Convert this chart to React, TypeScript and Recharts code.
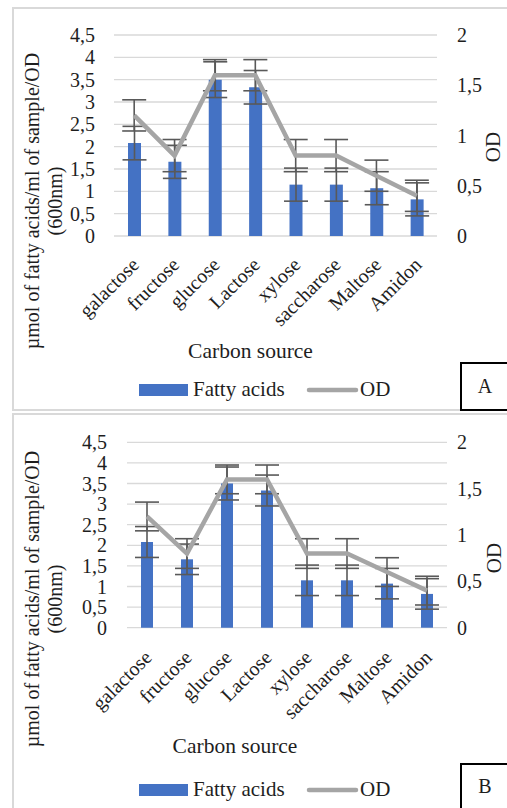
import React from "react";
import { ComposedChart, Bar, Line, XAxis, YAxis, CartesianGrid, ErrorBar, Legend } from "recharts";

// Carbon source screening: fatty acids (bars, left axis) + OD (line, right axis)
const categories = ["galactose", "fructose", "glucose", "Lactose", "xylose", "saccharose", "Maltose", "Amidon"];
const fattyAcids = [2.08, 1.66, 3.5, 3.33, 1.15, 1.15, 1.07, 0.82];
const fattyAcidsErr = [0.375, 0.37, 0.4, 0.375, 0.37, 0.37, 0.37, 0.37];
const odValues = [1.2, 0.8, 1.6, 1.6, 0.8, 0.8, 0.6, 0.4];
const odErr = [0.155, 0.16, 0.155, 0.155, 0.16, 0.16, 0.155, 0.155];
const leftTicks = [0, 0.5, 1, 1.5, 2, 2.5, 3, 3.5, 4, 4.5];
const rightTicks = [0, 0.5, 1, 1.5, 2];

const data = categories.map((source, i) => ({
  source,
  fa: fattyAcids[i],
  faErr: fattyAcidsErr[i],
  od: odValues[i],
  odErr: odErr[i],
}));

const FONT = '"Liberation Serif", "DejaVu Serif", serif';
const TEXT = "#1e1e1e";
const txt = { fontFamily: FONT };
const comma = (v: number) => String(v).replace(".", ",");

interface PanelLayout {
  top: number;
  height: number;
  marginTop: number;
  leftWidth: number;
  rightWidth: number;
  xHeight: number;
  leftTickMargin: number;
  rightTickMargin: number;
  barSize: number;
  tickDx: number;
  tickDy: number;
  yLabelCy: number;
  odLabel: [number, number];
  xLabel: [number, number];
  legendTop: number;
}

const panelA: PanelLayout = {
  top: 0,
  height: 411,
  marginTop: 35,
  leftWidth: 114,
  rightWidth: 70,
  xHeight: 175,
  leftTickMargin: 19,
  rightTickMargin: 20,
  barSize: 13,
  tickDx: 6,
  tickDy: 30,
  yLabelCy: 201,
  odLabel: [493, 147],
  xLabel: [250.5, 358],
  legendTop: 378,
};

const panelB: PanelLayout = {
  top: 411,
  height: 397,
  marginTop: 31.3,
  leftWidth: 127,
  rightWidth: 60,
  xHeight: 180.3,
  leftTickMargin: 20,
  rightTickMargin: 10,
  barSize: 12,
  tickDx: 6,
  tickDy: 31,
  yLabelCy: 188,
  odLabel: [494, 147],
  xLabel: [235, 342],
  legendTop: 367,
};

function CategoryTick({ x, y, payload, dx, dy }: any) {
  const tx = x + dx;
  const ty = y + dy;
  return (
    <text x={tx} y={ty} transform={`rotate(-45, ${tx}, ${ty})`} textAnchor="end" fontSize={20} fill={TEXT} style={txt}>
      {payload.value}
    </text>
  );
}

function LeftLabel({ cy }: { cy: number }) {
  return (
    <g>
      <text x={31.5} y={cy} transform={`rotate(-90, 31.5, ${cy})`} textAnchor="middle" dominantBaseline="central" fontSize={20} fill={TEXT} style={txt}>
        µmol of fatty acids/ml of sample/OD
      </text>
      <text x={54.5} y={cy} transform={`rotate(-90, 54.5, ${cy})`} textAnchor="middle" dominantBaseline="central" fontSize={20} fill={TEXT} style={txt}>
        (600nm)
      </text>
    </g>
  );
}

function RightLabel({ at }: { at: [number, number] }) {
  const [x, y] = at;
  return (
    <text x={x} y={y} transform={`rotate(-90, ${x}, ${y})`} textAnchor="middle" dominantBaseline="central" fontSize={21} fill={TEXT} style={txt}>
      OD
    </text>
  );
}

function BottomLabel({ at }: { at: [number, number] }) {
  return (
    <text x={at[0]} y={at[1]} textAnchor="middle" fontSize={21.5} fill={TEXT} style={txt}>
      Carbon source
    </text>
  );
}

function LegendBox({ payload }: any) {
  const items = payload ?? [];
  return (
    <svg width={507} height={30} style={{ display: "block", overflow: "visible" }}>
      {items.map((item: any, i: number) =>
        item.type === "line" ? (
          <g key={i}>
            <line x1={309} x2={356} y1={12} y2={12} stroke={item.color} strokeWidth={4.5} strokeLinecap="round" />
            <text x={360} y={18} fontSize={21} fill={TEXT} style={txt}>
              {item.value}
            </text>
          </g>
        ) : (
          <g key={i}>
            <rect x={139} y={6} width={49} height={12} fill={item.color} />
            <text x={193} y={18} fontSize={21} fill={TEXT} style={txt}>
              {item.value}
            </text>
          </g>
        )
      )}
    </svg>
  );
}

function Panel({ p }: { p: PanelLayout }) {
  return (
    <div style={{ position: "absolute", left: 0, top: p.top }}>
      <ComposedChart
        width={507}
        height={p.height}
        data={data}
        margin={{ top: p.marginTop, right: 0, bottom: 0, left: 0 }}
        style={{ fontFamily: FONT }}
      >
        <CartesianGrid yAxisId="left" vertical={false} stroke="#D9D9D9" strokeWidth={1.3} />
        <XAxis
          dataKey="source"
          height={p.xHeight}
          interval={0}
          tickLine={false}
          axisLine={false}
          tickSize={0}
          tickMargin={0}
          tick={(props: any) => <CategoryTick {...props} dx={p.tickDx} dy={p.tickDy} />}
          label={<BottomLabel at={p.xLabel} />}
        />
        <YAxis
          yAxisId="left"
          width={p.leftWidth}
          domain={[0, 4.5]}
          ticks={leftTicks}
          interval={0}
          tickLine={false}
          axisLine={false}
          tickSize={0}
          tickMargin={p.leftTickMargin}
          tickFormatter={comma}
          tick={{ fontSize: 20, fill: TEXT, style: txt }}
          label={<LeftLabel cy={p.yLabelCy} />}
        />
        <YAxis
          yAxisId="right"
          orientation="right"
          width={p.rightWidth}
          domain={[0, 2]}
          ticks={rightTicks}
          interval={0}
          tickLine={false}
          axisLine={false}
          tickSize={0}
          tickMargin={p.rightTickMargin}
          tickFormatter={comma}
          tick={{ fontSize: 20, fill: TEXT, textAnchor: "start", style: txt }}
          label={<RightLabel at={p.odLabel} />}
        />
        <Legend
          layout="vertical"
          align="center"
          verticalAlign="middle"
          wrapperStyle={{ left: 0, top: p.legendTop, width: 507, height: 30 }}
          content={(props: any) => <LegendBox {...props} />}
        />
        <Bar yAxisId="left" dataKey="fa" name="Fatty acids" fill="#4472C4" barSize={p.barSize} legendType="rect" isAnimationActive={false}>
          <ErrorBar dataKey="faErr" width={12} stroke="#595959" strokeWidth={1.6} isAnimationActive={false} />
        </Bar>
        <Line
          yAxisId="right"
          type="linear"
          dataKey="od"
          name="OD"
          stroke="#A5A5A5"
          strokeWidth={4.5}
          dot={false}
          activeDot={false}
          legendType="line"
          isAnimationActive={false}
        >
          <ErrorBar dataKey="odErr" width={12} stroke="#595959" strokeWidth={1.6} isAnimationActive={false} />
        </Line>
      </ComposedChart>
    </div>
  );
}

export default function App() {
  return (
    <div style={{ position: "relative", width: 507, height: 808, overflow: "hidden", fontFamily: FONT, background: "#fff" }}>
      <style>{"body{margin:0}"}</style>
      {/* panel frames */}
      <div style={{ position: "absolute", left: 12, top: 7, width: 510, height: 404, border: "2px solid #D9D9D9", boxSizing: "border-box" }} />
      <div style={{ position: "absolute", left: 12, top: 413, width: 510, height: 420, border: "2px solid #D9D9D9", boxSizing: "border-box" }} />
      <Panel p={panelA} />
      <Panel p={panelB} />
      {/* panel letters */}
      <div style={{ position: "absolute", left: 460, top: 362, width: 50, height: 49, border: "2px solid #000", boxSizing: "border-box", background: "#fff", textAlign: "center", lineHeight: "45px", fontSize: 20, color: TEXT }}>
        A
      </div>
      <div style={{ position: "absolute", left: 460, top: 763, width: 50, height: 70, border: "2px solid #000", boxSizing: "border-box", background: "#fff", textAlign: "center", lineHeight: "42px", fontSize: 20, color: TEXT }}>
        B
      </div>
    </div>
  );
}
